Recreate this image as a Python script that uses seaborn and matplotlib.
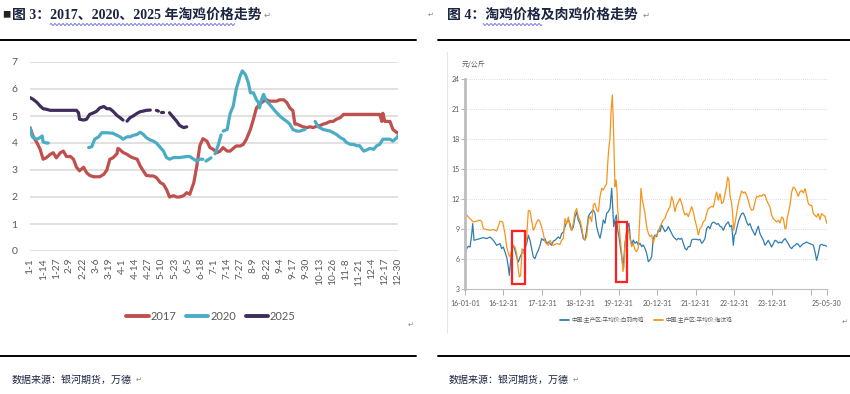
import matplotlib
matplotlib.use("Agg")
import matplotlib.pyplot as plt
from matplotlib.patches import Rectangle
from matplotlib.lines import Line2D
import seaborn as sns
import numpy as np
import pandas as pd

sns.set_theme(style="white")
plt.rcParams['font.family'] = ['Noto Sans CJK SC', 'DejaVu Sans']

# ---- 图3: day on a 366-day axis (0 = 1-1), price; each inner list is an unbroken run
years = ['2017', '2020', '2025']
year_colors = ['#C0504D', '#4BACC6', '#3F2D5C']

days_2017 = [[0, 3, 7, 10, 13, 16, 20, 23, 26, 30, 33, 36, 40, 43, 46, 49, 53, 56, 59, 63, 66, 69,
              73, 76, 79, 82, 86, 87, 89, 92, 96, 99, 102, 106, 109, 112, 115, 119, 122, 125, 129,
              132, 135, 138, 142, 145, 148, 152, 155, 158, 162, 165, 168, 171, 175, 178, 181, 185,
              188, 191, 195, 198, 201, 204, 208, 211, 214, 218, 221, 224, 227, 231, 234, 237, 241,
              244, 247, 251, 254, 257, 260, 262, 264, 267, 270, 274, 277, 280, 284, 287, 290, 293,
              297, 300, 303, 307, 310, 346, 348, 349, 351, 356, 359, 363, 364]]
price_2017 = [[4.57, 4.26, 4.0, 3.77, 3.4, 3.45, 3.58, 3.64, 3.45, 3.64, 3.7, 3.5, 3.5, 3.4, 3.1,
               2.97, 3.1, 2.9, 2.8, 2.75, 2.75, 2.75, 2.84, 3.0, 3.4, 3.45, 3.6, 3.8, 3.75, 3.65,
               3.58, 3.5, 3.45, 3.4, 3.15, 2.97, 2.8, 2.78, 2.78, 2.72, 2.53, 2.47, 2.28, 2.0, 2.05,
               2.0, 2.0, 2.05, 2.16, 2.1, 2.53, 3.15, 3.9, 4.16, 4.07, 3.83, 3.77, 3.64, 3.7, 3.83,
               3.7, 3.7, 3.8, 3.89, 3.89, 3.95, 4.14, 4.5, 4.88, 5.3, 5.43, 5.55, 5.6, 5.55, 5.55,
               5.55, 5.6, 5.6, 5.5, 5.3, 5.2, 4.7, 4.7, 4.65, 4.6, 4.57, 4.6, 4.57, 4.63, 4.65, 4.7,
               4.73, 4.8, 4.8, 4.88, 4.94, 5.06, 5.06, 4.8, 5.1, 4.8, 4.8, 4.5, 4.38, 4.38]]

days_2020 = [[0, 2, 3, 7, 10, 12, 13, 16, 18],
             [58, 61, 64, 68, 71, 76, 82, 89, 92, 96, 99, 102, 106, 109, 112, 115, 119, 122, 125,
              129, 132, 135, 138, 142, 148, 155, 158, 162, 165, 168, 171],
             [174, 177, 179],
             [183, 186, 189],
             [191, 195, 198, 201, 204, 208, 210, 213, 216, 218, 221, 224, 226, 227, 229, 231, 234,
              237, 241, 244, 247, 251, 254, 257, 260, 264, 267, 270, 272],
             [282, 285, 290, 297, 300, 303, 307, 310, 313, 317, 320, 323, 326, 330, 333, 336, 340,
              343, 346, 349, 353, 356, 359, 363, 364]]
price_2020 = [[4.57, 4.26, 4.2, 4.14, 4.2, 4.26, 4.04, 4.0, 4.0],
              [3.83, 3.86, 4.14, 4.23, 4.38, 4.38, 4.36, 4.23, 4.14, 4.23, 4.23, 4.28, 4.32, 4.4,
               4.32, 4.2, 4.11, 4.07, 4.0, 3.83, 3.7, 3.46, 3.4, 3.46, 3.46, 3.5, 3.5, 3.4, 3.33,
               3.4, 3.4],
              [3.33, 3.4, 3.45],
              [3.6, 3.9, 4.3],
              [4.44, 4.5, 5.1, 5.36, 6.0, 6.5, 6.67, 6.54, 6.23, 5.86, 5.86, 5.6, 5.5, 5.3, 5.6,
               5.8, 5.55, 5.43, 5.25, 5.12, 5.0, 4.88, 4.8, 4.7, 4.5, 4.44, 4.44, 4.48, 4.5],
              [4.8, 4.6, 4.5, 4.44, 4.38, 4.32, 4.2, 4.14, 4.02, 3.95, 3.95, 3.9, 3.9, 3.7, 3.74,
               3.8, 3.77, 3.9, 3.95, 4.14, 4.14, 4.14, 4.07, 4.2, 4.28]]

days_2025 = [[0, 3, 7, 10, 13, 16, 20, 26, 33, 40, 46, 48, 49, 53, 56, 59, 63, 66, 69, 73, 76, 79,
              82, 86, 89, 92],
             [96, 99, 102, 106, 109, 112, 115, 119],
             [125, 127],
             [130, 132],
             [138, 142, 145, 148, 152, 155]]
price_2025 = [[5.68, 5.62, 5.5, 5.37, 5.27, 5.25, 5.21, 5.21, 5.21, 5.21, 5.21, 5.12, 4.88, 4.85,
               4.88, 5.06, 5.12, 5.18, 5.3, 5.35, 5.27, 5.27, 5.18, 5.02, 4.94, 4.85],
              [4.81, 4.94, 5.0, 5.1, 5.16, 5.18, 5.21, 5.22],
              [5.21, 5.18],
              [5.15, 5.15],
              [5.12, 4.94, 4.81, 4.65, 4.57, 4.6]]

doy_labels = ['1-1', '1-14', '1-27', '2-9', '2-22', '3-6', '3-19', '4-1', '4-14', '4-27', '5-10',
              '5-23', '6-5', '6-18', '7-1', '7-14', '7-27', '8-9', '8-22', '9-4', '9-17', '9-30',
              '10-13', '10-26', '11-8', '11-21', '12-4', '12-17', '12-30']

# ---- 图4: days since 2016-01-01, 元/公斤
series_names = ['中国:主产区:平均价:白羽肉鸡', '中国:主产区:平均价:淘汰鸡']
series_colors = ['#2F7DB0', '#F7941D']

broiler_day = [0, 16, 32, 48, 63, 73, 86, 111, 143, 174, 206, 238, 269, 301, 333, 348, 364, 380,
               396, 412, 421, 434, 443, 459, 475, 491, 507, 523, 538, 554, 570, 586, 602, 618,
               633, 649, 665, 681, 697, 713, 728, 744, 760, 776, 792, 808, 823, 839, 855, 871,
               887, 903, 918, 934, 950, 966, 982, 998, 1013, 1029, 1045, 1061, 1077, 1093, 1108,
               1124, 1140, 1156, 1172, 1188, 1204, 1219, 1235, 1251, 1267, 1283, 1299, 1314, 1330,
               1346, 1362, 1378, 1394, 1403, 1413, 1425, 1438, 1451, 1463, 1476, 1489, 1501, 1511,
               1520, 1533, 1546, 1558, 1571, 1584, 1599, 1615, 1631, 1647, 1663, 1679, 1694, 1710,
               1726, 1742, 1758, 1774, 1789, 1805, 1821, 1837, 1853, 1869, 1884, 1900, 1916, 1932,
               1948, 1964, 1979, 1995, 2011, 2027, 2043, 2059, 2074, 2090, 2106, 2122, 2138, 2154,
               2169, 2185, 2201, 2217, 2233, 2249, 2264, 2280, 2296, 2312, 2328, 2344, 2360, 2376,
               2391, 2407, 2423, 2439, 2455, 2470, 2486, 2502, 2518, 2534, 2550, 2559, 2572, 2581,
               2597, 2613, 2629, 2645, 2661, 2676, 2692, 2708, 2724, 2740, 2756, 2771, 2787, 2803,
               2819, 2835, 2851, 2866, 2882, 2898, 2914, 2930, 2946, 2961, 2977, 2993, 3009, 3025,
               3041, 3056, 3072, 3088, 3104, 3120, 3136, 3151, 3167, 3183, 3199, 3215, 3231, 3246,
               3262, 3278, 3294, 3310, 3326, 3341, 3357, 3373, 3389, 3405, 3421, 3437]
broiler_price = [6.73, 7.07, 7.3, 7.23, 8.4, 9.57, 7.9, 7.97, 8.07, 8.17, 8.07, 8.23, 7.9, 7.4,
                 7.57, 7.07, 7.23, 6.73, 6.23, 5.23, 4.4, 5.9, 6.9, 7.4, 6.9, 6.23, 5.73, 6.23,
                 6.57, 6.9, 7.07, 7.57, 8.4, 7.9, 7.07, 6.23, 6.07, 6.57, 6.9, 7.4, 8.07, 7.9, 8.07,
                 7.57, 7.73, 7.57, 7.4, 7.83, 7.9, 8.07, 8.23, 8.07, 8.57, 8.73, 9.23, 9.73, 9.9,
                 9.57, 8.9, 9.23, 10.23, 10.73, 9.9, 9.57, 8.9, 8.07, 7.93, 8.93, 10.27, 10.6, 10.77,
                 10.93, 10.6, 9.27, 8.6, 8.1, 8.93, 9.93, 9.6, 10.6, 10.77, 11.1, 13.1, 11.27, 9.27,
                 9.93, 10.43, 8.93, 8.27, 7.27, 6.27, 5.27, 6.27, 7.6, 8.6, 9.27, 9.6, 8.1, 7.43,
                 7.93, 7.6, 7.77, 7.43, 7.6, 7.27, 7.43, 7.1, 6.6, 5.77, 5.93, 6.27, 8.1, 8.43, 8.27,
                 8.93, 8.77, 9.43, 9.1, 8.77, 8.93, 9.27, 8.93, 8.6, 8.27, 8.1, 7.93, 8.1, 8.0, 8.1,
                 7.6, 7.1, 6.93, 7.27, 7.27, 7.93, 8.0, 8.0, 8.0, 7.93, 8.0, 7.6, 7.77, 8.07, 9.07,
                 9.3, 9.07, 9.57, 9.73, 9.63, 9.5, 9.57, 9.3, 9.23, 8.9, 9.3, 9.57, 9.73, 9.23, 9.4,
                 7.4, 8.4, 8.57, 9.07, 9.73, 10.23, 10.57, 10.63, 10.23, 9.73, 9.4, 9.57, 9.07, 8.73,
                 8.4, 8.9, 9.3, 8.57, 8.23, 7.9, 7.4, 7.63, 7.9, 7.57, 7.23, 7.57, 7.9, 7.83, 7.63,
                 7.73, 7.63, 7.9, 8.07, 7.83, 7.57, 7.23, 7.07, 7.3, 7.4, 7.57, 7.5, 7.23, 7.4, 7.57,
                 7.63, 7.73, 7.63, 7.57, 7.5, 7.4, 6.73, 5.9, 6.57, 7.4, 7.5, 7.4, 7.4, 7.3]

hen_day = [0, 32, 63, 79, 111, 143, 158, 174, 206, 238, 269, 301, 317, 333, 358, 380, 396, 412,
           428, 443, 459, 475, 491, 507, 516, 529, 542, 554, 570, 586, 602, 618, 633, 649, 665,
           681, 697, 713, 728, 744, 760, 776, 792, 808, 823, 839, 871, 903, 918, 934, 950, 966,
           982, 998, 1013, 1029, 1045, 1061, 1077, 1093, 1108, 1124, 1140, 1156, 1172, 1188, 1204,
           1219, 1235, 1251, 1267, 1283, 1299, 1314, 1330, 1346, 1356, 1368, 1378, 1387, 1400,
           1409, 1419, 1425, 1435, 1444, 1451, 1463, 1476, 1489, 1501, 1511, 1520, 1533, 1546,
           1558, 1571, 1584, 1599, 1615, 1631, 1647, 1663, 1672, 1685, 1698, 1710, 1726, 1742,
           1758, 1774, 1789, 1805, 1821, 1837, 1853, 1869, 1884, 1900, 1916, 1932, 1948, 1964,
           1979, 1995, 2011, 2027, 2043, 2059, 2074, 2090, 2106, 2122, 2138, 2154, 2169, 2185,
           2201, 2217, 2233, 2249, 2264, 2280, 2296, 2312, 2328, 2344, 2360, 2376, 2391, 2407,
           2423, 2439, 2455, 2470, 2486, 2496, 2508, 2518, 2534, 2543, 2553, 2565, 2581, 2597,
           2613, 2629, 2645, 2661, 2676, 2692, 2708, 2724, 2740, 2756, 2771, 2787, 2803, 2819,
           2835, 2851, 2866, 2882, 2898, 2914, 2930, 2946, 2961, 2977, 2993, 3009, 3025, 3041,
           3050, 3063, 3072, 3088, 3104, 3120, 3136, 3151, 3167, 3183, 3199, 3215, 3231, 3246,
           3262, 3278, 3294, 3310, 3326, 3341, 3357, 3373, 3389, 3405, 3421, 3437]
hen_price = [10.63, 10.23, 9.9, 9.73, 9.83, 9.9, 9.8, 9.07, 8.97, 8.9, 8.97, 8.83, 9.3, 9.83,
             9.73, 8.57, 7.23, 6.57, 6.23, 6.9, 7.4, 7.23, 6.57, 4.9, 4.23, 4.4, 7.07, 6.57, 6.73,
             8.23, 10.9, 10.83, 9.9, 8.9, 9.23, 9.73, 9.97, 9.73, 9.23, 8.57, 7.73, 7.57, 7.4, 7.9,
             7.57, 7.4, 7.57, 7.5, 7.9, 8.07, 10.07, 9.57, 10.23, 9.23, 8.9, 9.57, 10.73, 11.07,
             10.23, 9.9, 9.23, 8.23, 7.93, 8.27, 9.93, 10.27, 9.77, 11.43, 11.6, 10.93, 10.77,
             12.27, 13.1, 12.93, 13.27, 13.6, 15.6, 17.27, 18.1, 20.6, 22.43, 19.93, 15.6, 13.27,
             13.93, 12.93, 10.93, 9.6, 7.93, 6.6, 4.77, 5.27, 7.27, 8.6, 9.27, 8.6, 7.93, 7.27,
             7.6, 6.93, 6.77, 7.1, 10.6, 13.1, 11.93, 11.27, 10.6, 9.27, 8.6, 8.27, 8.43, 7.6,
             8.27, 8.43, 8.77, 9.27, 9.6, 9.93, 10.1, 10.6, 10.93, 11.27, 12.27, 11.77, 10.77,
             11.43, 11.77, 12.1, 11.6, 10.93, 10.43, 10.6, 10.27, 10.77, 11.27, 10.77, 9.93, 9.27,
             8.43, 9.1, 9.27, 9.77, 9.9, 10.57, 11.07, 11.17, 11.3, 11.23, 12.07, 12.73, 11.9,
             12.57, 11.57, 11.73, 12.5, 13.4, 14.23, 13.9, 12.4, 11.57, 10.57, 8.9, 9.57, 10.57,
             11.57, 12.23, 12.83, 12.63, 12.73, 12.4, 11.9, 11.23, 10.9, 10.97, 11.73, 12.3,
             12.23, 12.4, 12.3, 12.5, 12.4, 11.9, 11.57, 11.23, 10.4, 10.07, 9.9, 9.73, 9.9, 9.63,
             10.23, 10.07, 9.07, 9.07, 10.23, 10.57, 11.4, 12.73, 13.23, 13.07, 12.73, 12.3,
             12.73, 12.9, 12.63, 13.07, 12.4, 11.57, 11.4, 11.4, 10.57, 10.4, 10.23, 10.57, 9.97,
             10.57, 10.4, 10.3, 9.6]

date_ticks = ['2016-01-01', '2016-12-31', '2017-12-31', '2018-12-31', '2019-12-31', '2020-12-31',
              '2021-12-31', '2022-12-31', '2023-12-31', '2024-12-31', '2025-05-30']
date_labels = ['16-01-01', '16-12-31', '17-12-31', '18-12-31', '19-12-31', '20-12-31',
               '21-12-31', '22-12-31', '23-12-31', '', '25-05-30']
# highlighted windows: (start, end, low, high)
boxes = [('2017-03-23', '2017-07-24', 3.53, 8.83), ('2019-12-06', '2020-03-16', 3.76, 9.76)]

W, H = 850, 394
fig = plt.figure(figsize=(W / 100, H / 100), dpi=100)
fig.patch.set_facecolor('white')

def box(x0, y0, x1, y1):
    return [x0 / W, 1 - y1 / H, (x1 - x0) / W, (y1 - y0) / H]

num_font = ['Lato', 'DejaVu Sans']
gray = '#595959'

# ================= 图3 =================
rows = []
for yr, dd, pp in zip(years, [days_2017, days_2020, days_2025], [price_2017, price_2020, price_2025]):
    for k, (d, p) in enumerate(zip(dd, pp)):
        rows += [(yr, f'{yr}-{k}', x, y) for x, y in zip(d, p)]
df3 = pd.DataFrame(rows, columns=['year', 'run', 'day', 'price'])

ax3 = fig.add_axes(box(30, 62, 398, 251))
sns.lineplot(data=df3, x='day', y='price', hue='year', units='run', estimator=None,
             palette=dict(zip(years, year_colors)), lw=2.3, legend=False, sort=False, ax=ax3)
ax3.set_xlim(0, 364)
ax3.set_ylim(0, 7)
ax3.set_yticks(range(0, 8))
ax3.set_yticklabels([str(v) for v in range(0, 8)], family=num_font, fontsize=7.5, color=gray)
ax3.set_xticks(range(0, 365, 13))
ax3.set_xticklabels(doy_labels, rotation=90, family=num_font, fontsize=7.3, color=gray)
ax3.tick_params(length=0, pad=5)
ax3.tick_params(axis='y', pad=9)
ax3.yaxis.grid(True, color='#D9D9D9', lw=1.1)
ax3.set_axisbelow(True)
ax3.set_xlabel('')
ax3.set_ylabel('')
for s in ax3.spines.values():
    s.set_visible(False)

handles3 = [Line2D([], [], color=c, lw=2.8) for c in year_colors]
fig.legend(handles3, years, loc='center', bbox_to_anchor=(211 / W, 1 - 316 / H), ncol=3,
           frameon=False, handlelength=2.0, handletextpad=0.15, columnspacing=0.9,
           prop={'family': num_font, 'size': 8}, labelcolor=gray)

# ================= 图4 =================
base = pd.Timestamp('2016-01-01')
df4 = pd.concat([
    pd.DataFrame({'date': base + pd.to_timedelta(broiler_day, unit='D'), 'price': broiler_price,
                  'series': series_names[0]}),
    pd.DataFrame({'date': base + pd.to_timedelta(hen_day, unit='D'), 'price': hen_price,
                  'series': series_names[1]}),
])

ax4 = fig.add_axes(box(465, 79.3, 826.7, 289.3))
sns.lineplot(data=df4, x='date', y='price', hue='series', estimator=None,
             palette=dict(zip(series_names, series_colors)), lw=0.9, legend=False, ax=ax4)
ax4.set_xlim(pd.Timestamp('2016-01-01'), pd.Timestamp('2025-05-30'))
ax4.set_ylim(3, 24)
ax4.set_yticks(range(3, 25, 3))
ax4.set_yticklabels([str(v) for v in range(3, 25, 3)], family=num_font, fontsize=5, color=gray)
ax4.set_xticks(pd.to_datetime(date_ticks))
ax4.set_xticklabels(date_labels, family=num_font, fontsize=5, color=gray)
ax4.tick_params(axis='y', length=3, width=0.6, color='#A6A6A6', pad=1, left=True)
ax4.tick_params(axis='x', length=4, width=0.6, color='#A6A6A6', pad=4, bottom=True)
ax4.set_xlabel('')
ax4.set_ylabel('')
for yv in range(6, 25, 3):
    ax4.axhline(yv, color='#CFCFCF', lw=0.6, ls=(0, (1, 1.5)), zorder=0)
for side in ['top', 'right']:
    ax4.spines[side].set_visible(False)
ax4.spines['left'].set_color('#BDBDBD')
ax4.spines['left'].set_linewidth(2)
ax4.spines['bottom'].set_color('#BDBDBD')
ax4.spines['bottom'].set_linewidth(0.8)
for d0, d1, lo, hi in boxes:
    t0, t1 = pd.Timestamp(d0), pd.Timestamp(d1)
    ax4.add_patch(Rectangle((t0, lo), t1 - t0, hi - lo, fill=False, ec='#FF2020', lw=1.6,
                            zorder=5))

handles4 = [Line2D([], [], color=c, lw=1.3) for c in series_colors]
fig.legend(handles4, series_names, loc='center', bbox_to_anchor=(646 / W, 1 - 320 / H), ncol=2,
           frameon=False, handlelength=1.6, handletextpad=0.35, columnspacing=1.8,
           prop={'family': ['Noto Sans CJK SC', 'DejaVu Sans'], 'size': 4.1}, labelcolor=gray)

# ================= page decorations (pixel coordinates) =================
pg = fig.add_axes([0, 0, 1, 1], zorder=10)
pg.set_xlim(0, W)
pg.set_ylim(H, 0)
pg.axis('off')
pg.patch.set_alpha(0)

title_font = ['Liberation Serif', 'Noto Sans CJK SC']
navy = '#1B2440'
mark = dict(color='#888888', va='center', ha='left', family='DejaVu Sans')
pg.text(2, 15, '■', fontsize=6, color='#222222', va='center', ha='left')
pg.text(12, 15, '图 3：2017、2020、2025 年淘鸡价格走势', fontsize=10, fontweight='bold',
        family=title_font, color=navy, va='center', ha='left')
pg.text(264, 15, '↵', fontsize=6, **mark)
pg.text(447, 15, '图 4：淘鸡价格及肉鸡价格走势', fontsize=10, fontweight='bold',
        family=title_font, color=navy, va='center', ha='left')
pg.text(643, 15, '↵', fontsize=6, **mark)
pg.text(428, 15, '↵', fontsize=5, **mark)

# spell-check squiggles under the titles
for xa, xb in [(50, 235), (483, 542)]:
    xs = np.arange(xa, xb, 0.4)
    pg.plot(xs, 24.5 + 0.9 * np.sin(xs * np.pi / 2), color='#3A3AE0', lw=0.5)

for y in (40, 356):
    pg.plot([0, 416], [y, y], color='black', lw=1.4)
    pg.plot([438, 850], [y, y], color='black', lw=1.4)

pg.plot([447, 447], [52, 333], color='#E6E6E6', lw=0.8)
pg.text(462, 65, '元/公斤', fontsize=5, color=gray, va='center', ha='left')
pg.text(408, 325, '↵', fontsize=5, **mark)
pg.text(842, 322, '↵', fontsize=5, **mark)

foot = '数据来源：银河期货，万德'
pg.text(12, 380, foot, fontsize=7.2, color=navy, va='center', ha='left')
pg.text(449, 380, foot, fontsize=7.2, color=navy, va='center', ha='left')
pg.text(136, 380, '↵', fontsize=5, **mark)
pg.text(573, 380, '↵', fontsize=5, **mark)

fig.savefig('out.png', dpi=100, facecolor='white')
